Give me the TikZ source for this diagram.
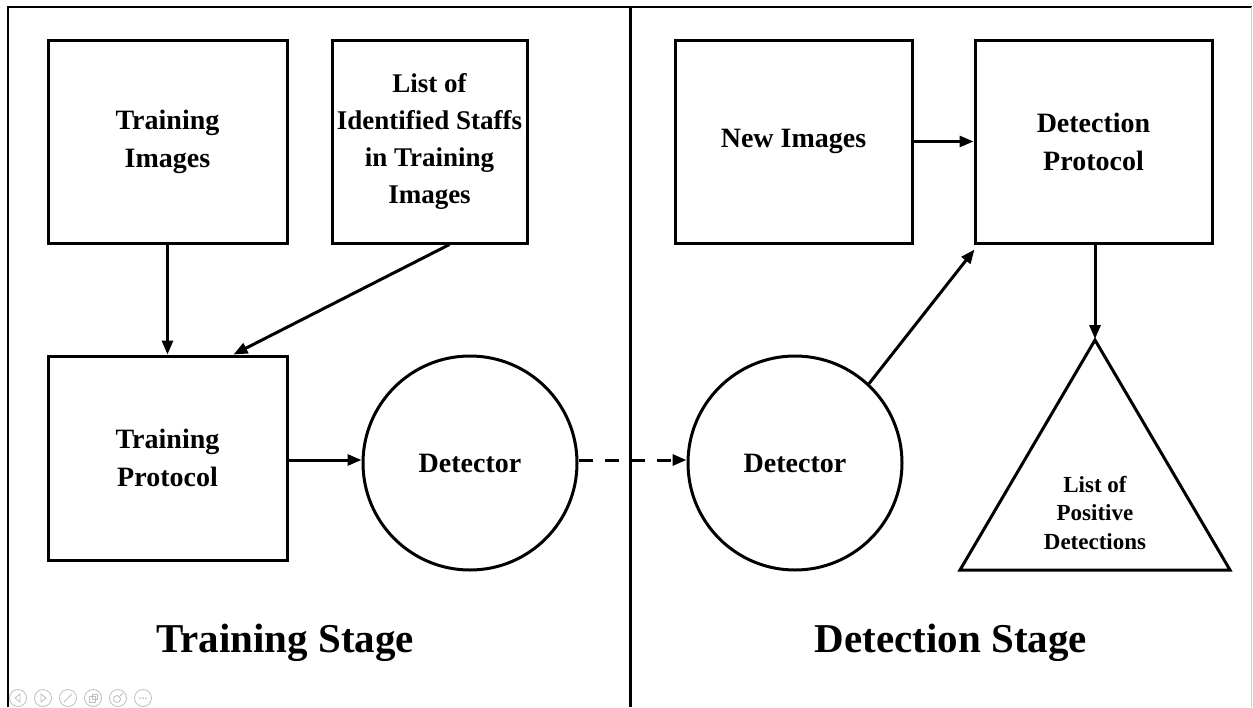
\documentclass[tikz,border=0pt]{standalone}
\usepackage{fontspec}
\setmainfont{Liberation Serif}
\usetikzlibrary{arrows.meta,calc}
\begin{document}
\begin{tikzpicture}[x=1pt,y=-1pt,
  box/.style={draw,line width=3pt,minimum width=239pt,minimum height=203pt,align=center,
    font=\fontsize{28}{38}\selectfont\bfseries, inner sep=2pt},
  circ/.style={draw,circle,line width=3pt,minimum size=214pt,inner sep=0pt,
    font=\fontsize{28}{38}\selectfont\bfseries},
  arr/.style={line width=3pt,-{Triangle[length=14pt,width=11pt]}},
  stagelbl/.style={font=\fontsize{41}{48}\selectfont\bfseries},
  icon/.style={draw=black!25,line width=0.8pt},
]
\useasboundingbox (0,0) rectangle (1253,707);
\fill[white] (0,0) rectangle (1253,707);
% frame
\draw[line width=2pt] (8,707) -- (8,7) -- (1252,7);
\draw[black!20,line width=1pt] (1251,7) -- (1251,707);
% divider
\coordinate (divtop) at (630,7);
\coordinate (divbot) at (630,707);
\draw[line width=3pt] (divtop) -- (divbot);

% training stage
\node[box] (ti) at (167.5,141.5) {Training\\Images};
\node[box,minimum width=195pt,font=\fontsize{27}{37}\selectfont\bfseries] (lst) at (429.5,141.5) {List of\\Identified Staffs\\in Training\\Images};
\node[box,minimum height=204pt] (tp) at (167.5,458) {Training\\Protocol};
\node[circ] (dl) at (470,463) {Detector};

% detection stage
\node[box,minimum width=237pt] (ni) at (793.5,141.5) {New Images};
\node[box,minimum width=237pt] (dp) at (1093.5,141.5) {Detection\\Protocol};
\node[circ] (dr) at (795,463) {Detector};
\coordinate (tapex) at (1095,340);
\coordinate (tbl) at (960,570);
\coordinate (tbr) at (1230,570);
\draw[line width=3pt,line join=miter] (tapex) -- (tbr) -- (tbl) -- cycle;
\node[align=center,font=\fontsize{23}{28.5}\selectfont\bfseries] (lpd) at (1095,513) {List of\\Positive\\Detections};

% connectors
\draw[arr] (ti.south) -- (tp.north);
\draw[arr] ([xshift=20pt]lst.south) -- ([xshift=-55pt]tp.north east);
\draw[arr] (tp.east |- 0,460) -- (dl.west |- 0,460);
\draw[arr,dash pattern=on 14pt off 12pt] (dl.east |- 0,460) -- (dr.west |- 0,460);
\draw[arr] (ni.east) -- (dp.west);
\draw[arr] (dr.47) -- ([yshift=-5pt,xshift=1pt]dp.south west);
\draw[arr] (dp.south -| tapex) -- ([yshift=1pt]tapex);

% stage labels
\node[stagelbl] (tsl) at (285,643) {Training Stage};
\node[stagelbl] (dsl) at (951,643) {Detection Stage};

% faint slide controls
\foreach \i/\cx in {1/18,2/43,3/68,4/93,5/118,6/143} {
  \node[icon,circle,minimum size=17pt,inner sep=0pt] (ic\i) at (\cx,698) {};
}
\draw[icon] ([xshift=2pt,yshift=4pt]ic1.center) -- ([xshift=-3pt]ic1.center) -- ([xshift=2pt,yshift=-4pt]ic1.center) -- cycle;
\draw[icon] ([xshift=-2pt,yshift=4pt]ic2.center) -- ([xshift=3pt]ic2.center) -- ([xshift=-2pt,yshift=-4pt]ic2.center) -- cycle;
\draw[icon] ([xshift=-4pt,yshift=-4pt]ic3.center) -- ([xshift=4pt,yshift=4pt]ic3.center);
\draw[icon] ([xshift=-4pt,yshift=-4pt]ic4.center) rectangle ([xshift=2pt,yshift=2pt]ic4.center);
\draw[icon] ([xshift=-1pt,yshift=-1pt]ic4.center) rectangle ([xshift=4pt,yshift=4pt]ic4.center);
\draw[icon] ([xshift=-1pt,yshift=-1pt]ic5.center) circle (3.5pt);
\draw[icon] ([xshift=2pt,yshift=2pt]ic5.center) -- ([xshift=5pt,yshift=5pt]ic5.center);
\foreach \dx in {-3,0,3} { \fill[black!25] ([xshift=\dx pt]ic6.center) circle (1pt); }
\end{tikzpicture}
\end{document}
